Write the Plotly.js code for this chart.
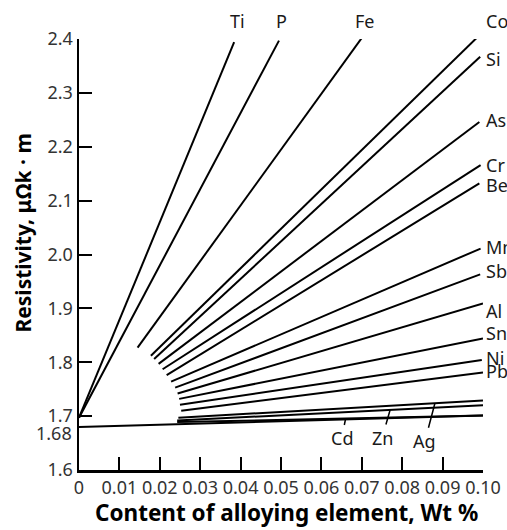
<!DOCTYPE html>
<html>
<head>
<meta charset="utf-8">
<script src="https://cdn.plot.ly/plotly-3.0.1.min.js"></script>
<style>html,body{margin:0;padding:0;background:#fff;}#chart{width:507px;height:530px;}</style>
</head>
<body>
<div id="chart"></div>
<script>
// Alloying elements and their resistivity lines (wt % -> resistivity reading)
const elements = ["Ti","P","Fe","Co","Si","As","Cr","Be","Mn","Sb","Al","Sn","Ni","Pb","Ag","Zn","Cd"];
const startX = [0, 0, 0.0145, 0.0178, 0.0186, 0.0197, 0.0207, 0.0217, 0.0228, 0.0238, 0.0244, 0.0248, 0.0250, 0.0253, 0.0246, 0.0243, 0.0243];
const startY = [1.697, 1.697, 1.827, 1.812, 1.806, 1.797, 1.787, 1.776, 1.764, 1.753, 1.742, 1.732, 1.721, 1.710, 1.697, 1.692, 1.689];
const endX   = [0.0384, 0.0495, 0.0700, 0.0987, 0.0993, 0.0991, 0.0994, 0.0991, 0.0994, 0.0993, 0.1, 0.1, 0.0997, 0.1, 0.1, 0.1, 0.1];
const endY   = [2.394, 2.397, 2.402, 2.404, 2.367, 2.246, 2.166, 2.132, 2.011, 1.963, 1.909, 1.844, 1.804, 1.781, 1.729, 1.720, 1.701];
// pure copper base line
const baseX = [0, 0.1];
const baseY = [1.68, 1.701];

const xTicks = [0, 0.01, 0.02, 0.03, 0.04, 0.05, 0.06, 0.07, 0.08, 0.09, 0.10];
const xTickText = ["0","0.01","0.02","0.03","0.04","0.05","0.06","0.07","0.08","0.09","0.10"];
const yTicks = [1.6, 1.7, 1.8, 1.9, 2.0, 2.1, 2.2, 2.3, 2.4];
const yTickText = ["1.6","1.7","1.8","1.9","2.0","2.1","2.2","2.3","2.4"];

const topLabels = ["Ti","P","Fe"];
const rightLabels = ["Co","Si","As","Cr","Be","Mn","Sb","Al","Sn","Ni","Pb"];
const rightShift = {Co:18, Si:-2, As:2, Cr:0, Be:-2, Mn:2, Sb:3, Al:-7, Sn:6, Ni:2, Pb:1};
const bottomLabels = ["Cd","Zn","Ag"];
const bottomAt = {Cd:0.066, Zn:0.0770, Ag:0.0881};
const bottomOffset = {Cd:[-4,20], Zn:[-8,28], Ag:[-10,38]};

const FONT = "Noto Sans, Open Sans, DejaVu Sans, sans-serif";
const lineStyle = {color:"#000", width:2};
const Y_MAX = 2.4;

const traces = elements.map((el,i)=>({
  type:"scatter", mode:"lines", name:el,
  x:[startX[i], endX[i]], y:[startY[i], endY[i]],
  line:lineStyle, cliponaxis:false, hoverinfo:"name"
}));
traces.push({type:"scatter", mode:"lines", name:"Cu", x:baseX, y:baseY, line:lineStyle, cliponaxis:false});

function yOn(el, x){
  const i = elements.indexOf(el);
  return startY[i] + (endY[i]-startY[i])*(x-startX[i])/(endX[i]-startX[i]);
}

const labFont = {family:FONT, size:18, color:"#1a1a1a"};
const annotations = [];
topLabels.forEach(el=>{
  const i = elements.indexOf(el);
  annotations.push({x:endX[i], y:1, xref:"x", yref:"paper", text:el, showarrow:false,
    xanchor:"center", yanchor:"middle", xshift:3, yshift:18, font:labFont});
});
rightLabels.forEach(el=>{
  const i = elements.indexOf(el);
  annotations.push({x:0.1, y:Math.min(endY[i], Y_MAX), xref:"x", yref:"y", text:el, showarrow:false,
    xanchor:"left", yanchor:"middle", xshift:1, yshift:rightShift[el], font:labFont});
});
bottomLabels.forEach(el=>{
  const x = bottomAt[el];
  annotations.push({x:x, y:yOn(el,x), xref:"x", yref:"y", text:el, showarrow:true,
    arrowhead:0, arrowwidth:1.5, arrowcolor:"#000", ax:bottomOffset[el][0], ay:bottomOffset[el][1],
    standoff:0, font:labFont});
});
// 1.68 base value label
annotations.push({x:0, y:baseY[0], xref:"paper", yref:"y", text:"1.68", showarrow:false,
  xanchor:"right", yanchor:"middle", xshift:-5, yshift:-6, font:{family:FONT, size:18, color:"#333"}});
// y-axis title
annotations.push({x:0, y:0.5, xref:"paper", yref:"paper", text:"<b>Resistivity, μΩk · m</b>", showarrow:false,
  textangle:-90, xanchor:"center", yanchor:"middle", xshift:-57, yshift:21,
  font:{family:FONT, size:21, color:"#000"}});
// x-axis title
annotations.push({x:0.5, y:0, xref:"paper", yref:"paper", text:"<b>Content of alloying element, Wt %</b>", showarrow:false,
  xanchor:"center", yanchor:"middle", xshift:5, yshift:-42,
  font:{family:FONT, size:22.5, color:"#000"}});

const layout = {
  width:507, height:530,
  margin:{l:79, r:24, t:39, b:60},
  paper_bgcolor:"#fff", plot_bgcolor:"#fff",
  showlegend:false,
  xaxis:{range:[0,0.1], tickvals:xTicks, ticktext:xTickText, tickangle:0,
    ticks:"inside", ticklen:13, tickwidth:2, tickcolor:"#000",
    showline:true, linewidth:2.5, linecolor:"#000", showgrid:false, zeroline:false,
    tickfont:{family:FONT, size:18, color:"#333"}},
  yaxis:{range:[1.6,2.4], tickvals:yTicks, ticktext:yTickText,
    ticks:"inside", ticklen:13, tickwidth:2, tickcolor:"#000",
    showline:true, linewidth:2.5, linecolor:"#000", showgrid:false, zeroline:false,
    tickfont:{family:FONT, size:18, color:"#333"}},
  annotations:annotations
};

Plotly.newPlot("chart", traces, layout, {staticPlot:true, displayModeBar:false});
</script>
</body>
</html>
